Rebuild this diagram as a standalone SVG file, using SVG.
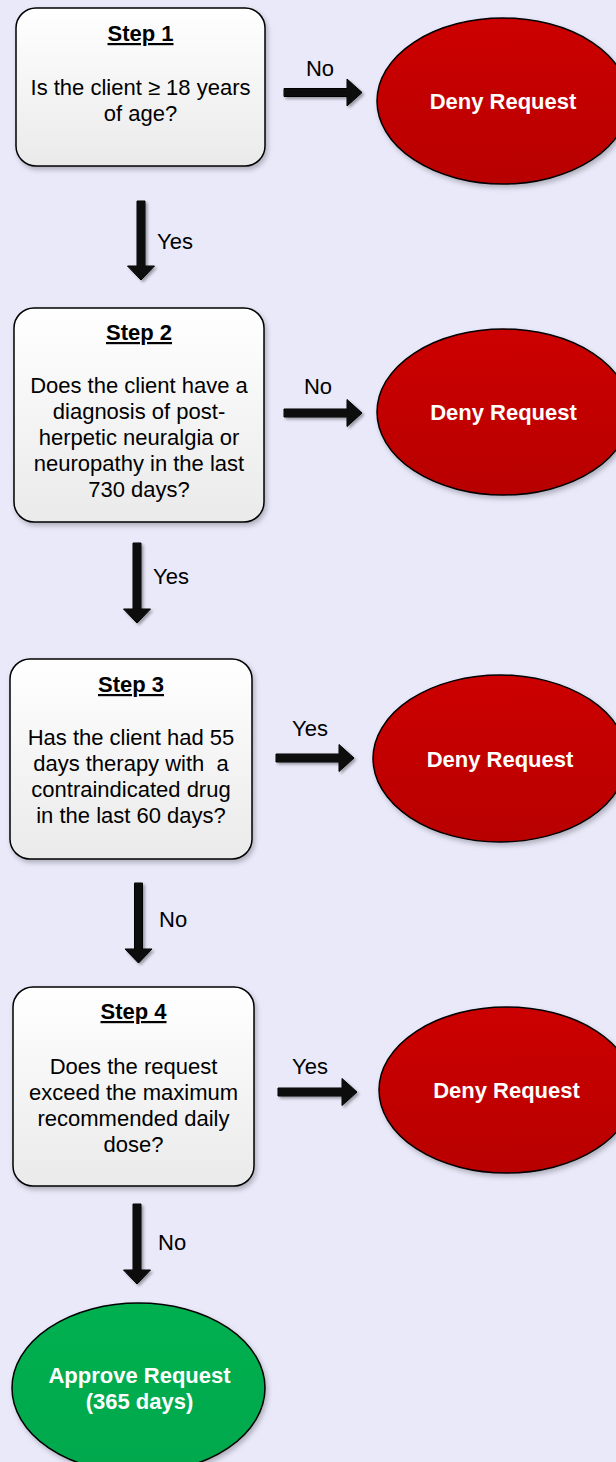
<svg xmlns="http://www.w3.org/2000/svg" width="616" height="1462" viewBox="0 0 616 1462">
<defs>
<linearGradient id="boxG" x1="0" y1="0" x2="0" y2="1"><stop offset="0" stop-color="#FFFFFF"/><stop offset="1" stop-color="#EAEAEA"/></linearGradient>
<linearGradient id="redG" x1="0" y1="0" x2="0" y2="1"><stop offset="0" stop-color="#CC0000"/><stop offset="1" stop-color="#B80000"/></linearGradient>
<linearGradient id="greenG" x1="0" y1="0" x2="0" y2="1"><stop offset="0" stop-color="#00B050"/><stop offset="1" stop-color="#00A84C"/></linearGradient>
<filter id="sh" x="-20%" y="-20%" width="150%" height="150%"><feDropShadow dx="2" dy="3" stdDeviation="2.5" flood-color="#000" flood-opacity="0.25"/></filter>
<filter id="ash" x="-30%" y="-30%" width="170%" height="170%"><feDropShadow dx="2" dy="2" stdDeviation="1.5" flood-color="#000" flood-opacity="0.35"/></filter>
</defs>
<style>
.box{fill:url(#boxG);stroke:#000;stroke-width:1.5;filter:url(#sh)}
.deny{fill:url(#redG);stroke:#000;stroke-width:1.5;filter:url(#sh)}
.ok{fill:url(#greenG);stroke:#000;stroke-width:1.5;filter:url(#sh)}
.arr{fill:#111;stroke:#000;stroke-width:1;filter:url(#ash)}
text{font-family:"Liberation Sans",Arial,sans-serif;font-size:22px;fill:#000}
.c{text-anchor:middle}
.t{font-weight:bold;text-decoration:underline}
.w{fill:#fff;font-weight:bold;text-anchor:middle}
</style>
<rect width="616" height="1462" fill="#E9E9FA"/>

<g id="connectors">
<polygon class="arr" points="284,88.5 347,88.5 347,79 362,92.5 347,106 347,96.5 284,96.5"/>
<text x="320" y="76" class="c">No</text>
<polygon class="arr" points="284,409 347,409 347,399.5 362,413 347,426.5 347,417 284,417"/>
<text x="318" y="394" class="c">No</text>
<polygon class="arr" points="276,754 339,754 339,744.5 354,758 339,771.5 339,762 276,762"/>
<text x="310" y="736" class="c">Yes</text>
<polygon class="arr" points="278,1088 342,1088 342,1078.5 357,1092 342,1105.5 342,1096 278,1096"/>
<text x="310" y="1074" class="c">Yes</text>

<polygon class="arr" points="137,201 145,201 145,266 154.5,266 141,280 127.5,266 137,266"/>
<text x="157" y="249">Yes</text>
<polygon class="arr" points="133,543 141,543 141,609 150.5,609 137,623 123.5,609 133,609"/>
<text x="153" y="584">Yes</text>
<polygon class="arr" points="134.5,883 142.5,883 142.5,949 152,949 138.5,963 125,949 134.5,949"/>
<text x="159" y="927">No</text>
<polygon class="arr" points="133,1204 141,1204 141,1270 150.5,1270 137,1284 123.5,1270 133,1270"/>
<text x="158" y="1250">No</text>
</g>

<g id="step1">
<rect class="box" x="16" y="8" width="249" height="158" rx="20"/>
<text x="140.5" y="41" class="c t">Step 1</text>
<text x="140.5" y="95" class="c">Is the client ≥ 18 years</text>
<text x="140.5" y="121" class="c">of age?</text>
</g>
<g id="deny1">
<ellipse class="deny" cx="503" cy="101" rx="126" ry="83"/>
<text x="503" y="109" class="w">Deny Request</text>
</g>

<g id="step2">
<rect class="box" x="14" y="308" width="250" height="214" rx="20"/>
<text x="139" y="340" class="c t">Step 2</text>
<text x="139" y="393" class="c">Does the client have a</text>
<text x="139" y="419" class="c">diagnosis of post-</text>
<text x="139" y="445" class="c">herpetic neuralgia or</text>
<text x="139" y="471" class="c">neuropathy in the last</text>
<text x="139" y="497" class="c">730 days?</text>
</g>
<g id="deny2">
<ellipse class="deny" cx="503.5" cy="412" rx="126.5" ry="83"/>
<text x="503.5" y="420" class="w">Deny Request</text>
</g>

<g id="step3">
<rect class="box" x="10" y="659" width="242" height="200" rx="20"/>
<text x="131" y="692" class="c t">Step 3</text>
<text x="131" y="745" class="c">Has the client had 55</text>
<text x="131" y="771" class="c" xml:space="preserve" style="white-space:pre">days therapy with  a</text>
<text x="131" y="797" class="c">contraindicated drug</text>
<text x="131" y="823" class="c">in the last 60 days?</text>
</g>
<g id="deny3">
<ellipse class="deny" cx="500" cy="758.5" rx="127" ry="83.5"/>
<text x="500" y="767" class="w">Deny Request</text>
</g>

<g id="step4">
<rect class="box" x="13" y="987" width="241" height="199" rx="20"/>
<text x="133.5" y="1019" class="c t">Step 4</text>
<text x="133.5" y="1074" class="c">Does the request</text>
<text x="133.5" y="1100" class="c">exceed the maximum</text>
<text x="133.5" y="1126" class="c">recommended daily</text>
<text x="133.5" y="1152" class="c">dose?</text>
</g>
<g id="deny4">
<ellipse class="deny" cx="506.5" cy="1090" rx="127.5" ry="83"/>
<text x="506.5" y="1098" class="w">Deny Request</text>
</g>

<g id="approve">
<ellipse class="ok" cx="138.5" cy="1388" rx="126.5" ry="85"/>
<text x="139.5" y="1383" class="w">Approve Request</text>
<text x="139.5" y="1409" class="w">(365 days)</text>
</g>
</svg>
